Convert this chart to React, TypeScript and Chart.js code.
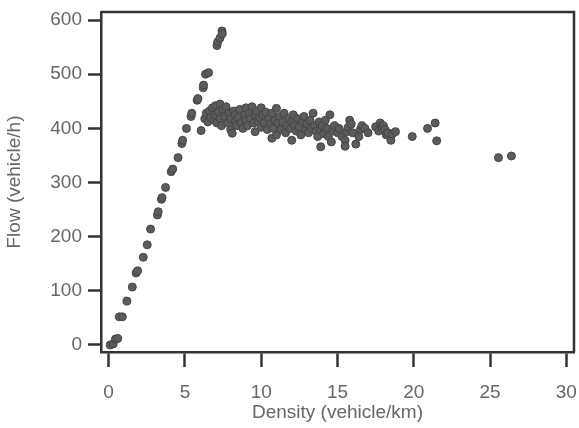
import React, { useEffect, useRef } from "react";
import { Chart, registerables } from "chart.js";

Chart.register(...registerables);

const density: number[] = [
  0.1, 0.3, 0.45, 0.6, 0.7, 0.9, 1.2, 1.55, 1.8, 1.9, 2.27, 2.53, 2.75, 3.2, 3.25, 3.46, 3.5, 3.73, 4.1, 4.2,
  4.55, 4.8, 4.85, 5.1, 5.4, 5.45, 5.8, 5.85, 6.06, 6.2, 6.22, 6.35, 6.55, 7.1, 7.15, 7.3, 7.43, 7.45,
  6.3, 6.4, 6.5, 6.6, 6.7, 6.8, 6.9, 7.0, 7.0, 7.1, 7.2, 7.3, 7.3, 7.4, 7.5, 7.6, 7.7, 7.8, 7.9, 8.0, 8.0,
  8.1, 8.2, 8.3, 8.3, 8.4, 8.5, 8.6, 8.7, 8.8, 8.9, 9.0, 9.0, 9.1, 9.2, 9.3, 9.4, 9.5, 9.6, 9.6, 9.7, 9.8,
  9.9, 10.0, 10.0, 10.1, 10.2, 10.3, 10.4, 10.5, 10.6, 10.7, 10.7, 10.8, 10.9, 11.0, 11.0, 11.1, 11.2,
  11.3, 11.4, 11.5, 11.6, 11.7, 11.8, 11.9, 12.0, 12.0, 12.1, 12.2, 12.3, 12.4, 12.5, 12.6, 12.7, 12.8,
  12.9, 13.0, 13.1, 13.2, 13.3, 13.4, 13.5, 13.6, 13.7, 13.8, 13.9, 13.9, 14.0, 14.1, 14.2, 14.3, 14.4,
  14.5, 14.6, 14.7, 14.8, 15.0, 15.1, 15.3, 15.5, 15.5, 15.6, 15.7, 15.8, 15.9, 16.0, 16.2, 16.4, 16.5,
  16.6, 16.8, 17.0, 17.5, 17.7, 17.8, 17.9, 18.0, 18.1, 18.2, 18.3, 18.5, 18.6, 18.8, 19.9, 20.9, 21.4,
  21.5, 25.55, 26.4,
];

const flow: number[] = [
  0, 2, 11, 12, 52, 52, 81, 107, 133, 137, 162, 185, 214, 240, 246, 269, 272, 291, 320, 325,
  346, 372, 378, 400, 422, 428, 452, 455, 396, 475, 480, 500, 503, 553, 560, 567, 580, 575,
  418, 428, 412, 432, 420, 438, 415, 442, 425, 410, 430, 445, 418, 405, 435, 422, 440, 410, 428, 398, 418,
  391, 432, 412, 425, 405, 420, 435, 410, 400, 425, 415, 438, 405, 428, 418, 440, 410, 394, 425, 432, 412,
  420, 438, 402, 425, 410, 430, 398, 418, 408, 382, 428, 400, 415, 437, 388, 410, 422,
  398, 412, 428, 392, 405, 418, 400, 378, 412, 425, 405, 395, 418, 402, 388, 412, 422,
  398, 408, 392, 415, 400, 428, 405, 395, 385, 412, 366, 398, 405, 390, 415, 400, 385,
  425, 375, 395, 405, 392, 400, 385, 378, 367, 394, 402, 415, 408, 392, 371, 385, 398,
  405, 400, 392, 403, 395, 410, 402, 405, 398, 388, 392, 378, 390, 394, 385, 400, 410,
  377, 346, 349,
];

const xTicks: number[] = [0, 5, 10, 15, 20, 25, 30];
const yTicks: number[] = [0, 100, 200, 300, 400, 500, 600];

const xTitle = "Density (vehicle/km)";
const yTitle = "Flow (vehicle/h)";

const AXIS = "#333333";
const TEXT = "#666666";
const FONT = "'Liberation Sans', Arial, sans-serif";

const framePlugin = {
  id: "frame",
  afterDraw(chart: any) {
    const { ctx, chartArea } = chart;
    ctx.save();
    ctx.strokeStyle = AXIS;
    ctx.lineWidth = 2.5;
    ctx.beginPath();
    ctx.moveTo(chartArea.left, chartArea.top);
    ctx.lineTo(chartArea.right, chartArea.top);
    ctx.lineTo(chartArea.right, chartArea.bottom);
    ctx.stroke();
    ctx.restore();
  },
};

export default function App() {
  const ref = useRef<HTMLCanvasElement>(null);
  useEffect(() => {
    if (!ref.current) return;
    const points = density.map((d, i) => ({ x: d, y: flow[i] }));
    const chart = new Chart(ref.current, {
      type: "scatter",
      data: {
        datasets: [
          {
            data: points,
            backgroundColor: "#5c5c5c",
            borderColor: "#444444",
            borderWidth: 1,
            pointRadius: 4,
          },
        ],
      },
      options: {
        animation: false,
        responsive: false,
        layout: { padding: { top: 12, right: 4, left: 0, bottom: 0 } },
        plugins: { legend: { display: false }, tooltip: { enabled: false } },
        scales: {
          x: {
            type: "linear",
            min: -0.5,
            max: 30.5,
            afterBuildTicks: (s: any) => {
              s.ticks = xTicks.map((v) => ({ value: v }));
            },
            afterFit: (s: any) => {
              s.height = 76;
              s.paddingLeft = 0;
              s.paddingRight = 0;
            },
            border: { display: true, color: AXIS, width: 2.5 },
            grid: {
              drawOnChartArea: false,
              drawTicks: true,
              tickLength: 15,
              tickColor: AXIS,
              tickWidth: 2.5,
            },
            ticks: { color: TEXT, font: { family: FONT, size: 19 }, padding: 14, maxRotation: 0 },
            title: {
              display: true,
              text: xTitle,
              color: TEXT,
              font: { family: FONT, size: 19 },
              padding: { top: 0, bottom: 4 },
            },
          },
          y: {
            type: "linear",
            min: -13,
            max: 615,
            afterBuildTicks: (s: any) => {
              s.ticks = yTicks.map((v) => ({ value: v }));
            },
            afterFit: (s: any) => {
              s.width = 101;
              s.paddingTop = 0;
              s.paddingBottom = 0;
            },
            border: { display: true, color: AXIS, width: 2.5 },
            grid: {
              drawOnChartArea: false,
              drawTicks: true,
              tickLength: 13,
              tickColor: AXIS,
              tickWidth: 2.5,
            },
            ticks: { color: TEXT, font: { family: FONT, size: 19 }, padding: 6 },
            title: {
              display: true,
              text: yTitle,
              color: TEXT,
              font: { family: FONT, size: 19 },
              padding: { top: 3, bottom: 0 },
            },
          },
        },
      },
      plugins: [framePlugin],
    });
    return () => chart.destroy();
  }, []);
  return (
    <div style={{ position: "fixed", left: 0, top: 0, width: 579, height: 428, background: "#fff" }}>
      <canvas ref={ref} width={579} height={428} style={{ display: "block" }} />
    </div>
  );
}
